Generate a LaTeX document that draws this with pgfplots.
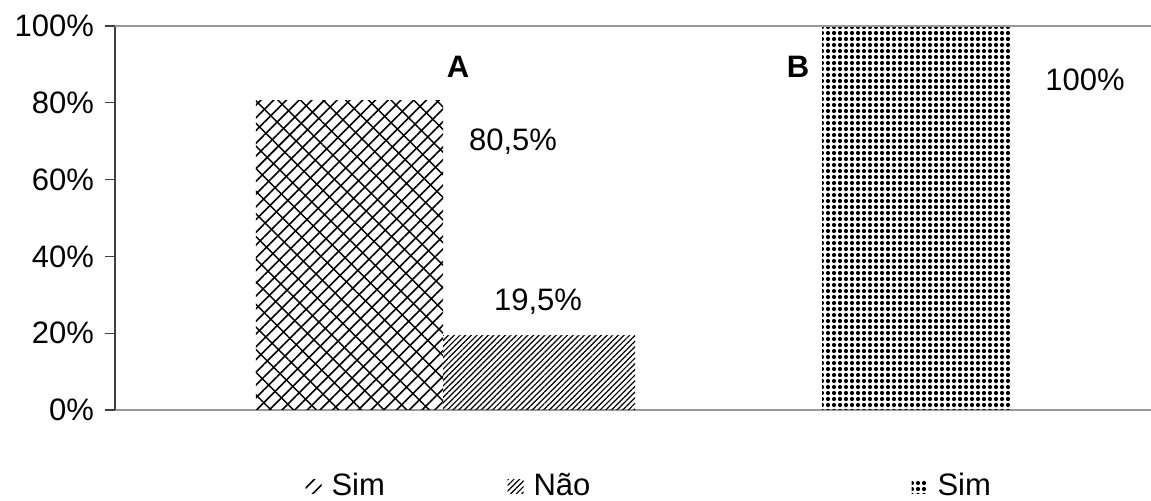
\documentclass[border=0pt]{standalone}
\usepackage{fontspec}
\setmainfont{Liberation Sans}
\usepackage{pgfplots}
\pgfplotsset{compat=1.18}
\usetikzlibrary{patterns.meta}

\begin{document}
\begin{tikzpicture}[font=\fontsize{15.5}{18}\selectfont]
\useasboundingbox (-57.5pt,-45.5pt) rectangle (518pt,205pt);
\begin{axis}[
 at={(0,0)}, anchor=south west,
 scale only axis, width=518pt, height=192pt,
 xmin=0, xmax=1036, ymin=0, ymax=100,
 axis x line=bottom, axis y line=left,
 x axis line style={-, draw=gray!80, line width=1pt},
 y axis line style={-, draw=black!75, line width=0.8pt},
 xtick=\empty,
 ytick={0,20,...,100},
 yticklabel={\pgfmathprintnumber{\tick}\%},
 /pgf/number format/assume math mode=true,
 yticklabel style={font=\fontsize{15.5}{18}\selectfont, xshift=-2pt},
 tick align=outside, major tick length=5pt,
 tick style={black!75, line width=0.6pt},
 ybar, bar shift=0pt,
 legend columns=4,
 legend style={draw=none, fill=none, inner sep=0pt, at={(0.1835,-0.198)}, anchor=west,
   font=\fontsize{15.5}{18}\selectfont,
   /tikz/every even column/.style={column sep=0pt}},
 legend image code/.code={\draw[#1, draw=none] (0pt,-3.5pt) rectangle (8pt,3.5pt);},
 clip=false,
]
\addplot[bar width=187, draw=none, pattern={Lines[angle=45,distance=4.5pt,line width=0.8pt]}] coordinates {(234.5,80.5)};
\addlegendentry{\makebox[89pt][l]{\hspace{3pt}Sim}}
\addplot[forget plot, bar width=187, draw=none, pattern={Lines[angle=-45,distance=8pt,line width=0.7pt]}] coordinates {(234.5,80.5)};
\addplot[bar width=192, draw=none, pattern={Lines[angle=45,distance=2pt,line width=0.6pt]}] coordinates {(424,19.5)};
\addlegendentry{\makebox[89pt][l]{\hspace{3pt}Não}}
\addlegendimage{draw=none}
\addlegendentry{\makebox[89pt][l]{}}
\addplot[bar width=188, draw=none, pattern={Dots[distance=3pt,radius=1.05pt]}] coordinates {(801,100)};
\addlegendentry{\makebox[89pt][l]{\hspace{3pt}Sim}}
\draw[gray!80, line width=1pt] (rel axis cs:0,1) -- (rel axis cs:1,1);
\node[font=\fontsize{15.5}{18}\selectfont\bfseries] at (axis cs:343,89.3) {A};
\node[font=\fontsize{15.5}{18}\selectfont\bfseries] at (axis cs:683,89.3) {B};
\node at (axis cs:398,69.8) {80,5\%};
\node at (axis cs:423,28.1) {19,5\%};
\node at (axis cs:970,85.9) {100\%};
\end{axis}
\end{tikzpicture}
\end{document}
